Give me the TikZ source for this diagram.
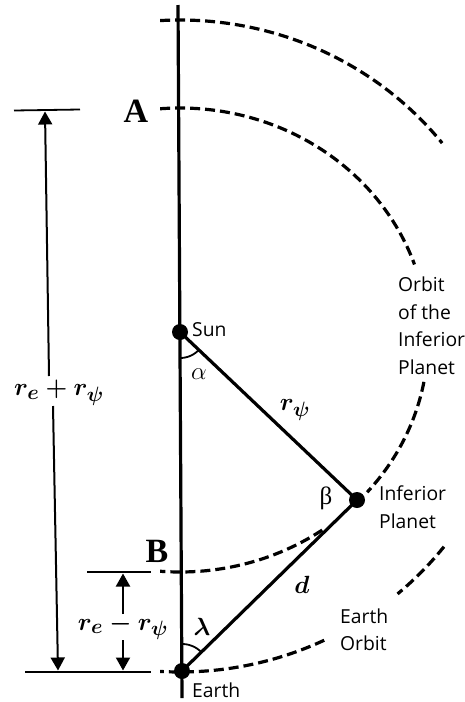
\documentclass[tikz,border=0pt]{standalone}
\usepackage{fontspec}
\newfontfamily\lab{Open Sans}
\newfontfamily\tnr{Liberation Serif}
\usetikzlibrary{arrows.meta}
\begin{document}
\begin{tikzpicture}[x=1pt,y=-1pt,
  mainline/.style={line width=3.2pt},
  orbit/.style={line width=3.2pt, dash pattern=on 10pt off 5pt},
  dimline/.style={line width=1.8pt},
  dimarrow/.style={line width=2pt,-{Triangle[length=13pt,width=14pt]}},
  body/.style={circle,fill=black,inner sep=0pt,minimum size=16pt},
  lbl/.style={font=\lab\fontsize{19.3}{27.5}\selectfont,align=left,anchor=west,inner sep=0pt},
  mlbl/.style={font=\fontsize{28}{30}\selectfont\boldmath,inner sep=0pt},
  letter/.style={font=\tnr\bfseries\fontsize{34}{36}\selectfont,inner sep=0pt}]
\useasboundingbox (0,0) rectangle (465,702);
% orbits
\draw[orbit] plot[domain=-3.4:51.5,samples=80] ({180+335*sin(\x)},{346-326*cos(\x)});
\draw[orbit] plot[domain=128:139.5,samples=30] ({180+335*sin(\x)},{346-326*cos(\x)});
\draw[orbit] plot[domain=154.5:183.4,samples=60] ({180+335*sin(\x)},{346-326*cos(\x)});
\draw[orbit] plot[domain=-4.6:71,samples=80] ({180+248*sin(\x)},{340-232*cos(\x)});
\draw[orbit] plot[domain=100.4:131,samples=40] ({180+248*sin(\x)},{340-232*cos(\x)});
\draw[orbit] plot[domain=145:184.6,samples=60] ({180+248*sin(\x)},{340-232*cos(\x)});
% axis
\coordinate (top) at (178,5);
\coordinate (bot) at (182,698);
\draw[mainline] (top) -- (bot);
% bodies
\node[body] (sun) at (180,332) {};
\node[body] (planet) at (357,500) {};
\node[body] (earth) at (182,671) {};
\draw[mainline] (sun.center) -- (planet.center);
\draw[mainline] (earth.center) -- (planet.center);
% angle arcs
\draw[line width=1.8pt,shift={(sun.center)}] plot[domain=44:90,samples=20] ({26*cos(\x)},{26*sin(\x)});
\draw[line width=1.8pt,shift={(earth.center)}] plot[domain=-90:-44,samples=20] ({27*cos(\x)},{27*sin(\x)});
% dimension lines
\coordinate (a1) at (14,110.5); \coordinate (a2) at (80,109.5);
\coordinate (b1) at (87,572); \coordinate (b2) at (151,572);
\coordinate (c1) at (25,672); \coordinate (c2) at (151,672);
\draw[dimline] (a1) -- (a2);
\draw[dimline] (b1) -- (b2);
\draw[dimline] (c1) -- (c2);
\coordinate (p1) at (49,376); \coordinate (p2) at (45,111.5);
\coordinate (q1) at (53,406); \coordinate (q2) at (58,670.5);
\coordinate (s1) at (123,614); \coordinate (s2) at (123,573.5);
\coordinate (u1) at (123,640); \coordinate (u2) at (123,670.5);
\draw[dimarrow] (p1) -- (p2);
\draw[dimarrow] (q1) -- (q2);
\draw[dimarrow] (s1) -- (s2);
\draw[dimarrow] (u1) -- (u2);
% labels
\node[letter] (A) at (136,111) {A};
\node[letter] (B) at (157,551) {B};
\node[lbl] (sunlbl) at (192,330) {Sun};
\node[lbl] (orbitlbl) at (398,326) {Orbit\\of the\\Inferior\\Planet};
\node[lbl] (planetlbl) at (379,507) {Inferior\\Planet};
\node[lbl] (earthorbitlbl) at (340,630) {Earth\\Orbit};
\node[lbl] (earthlbl) at (192,690) {Earth};
\node[font=\fontsize{26}{28}\selectfont,inner sep=0pt] (alpha) at (199,374) {$\alpha$};
\node[mlbl] (rpsi) at (295,410) {$r_\psi$};
\node[font=\tnr\fontsize{25}{27}\selectfont,inner sep=0pt] (beta) at (326,498) {β};
\node[mlbl] (dlbl) at (302,585) {$d$};
\node[mlbl] (lambda) at (202,627) {$\lambda$};
\node[mlbl] (sum) at (59,393) {$r_e+r_\psi$};
\node[mlbl] (diff) at (123,627) {$r_e-r_\psi$};
\end{tikzpicture}
\end{document}
